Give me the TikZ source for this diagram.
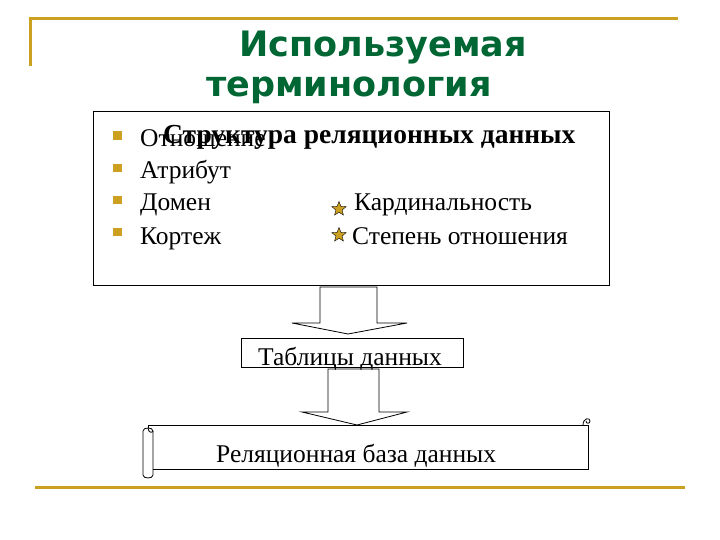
\documentclass[tikz,border=0pt]{standalone}
\usepackage{fontspec}
\setmainfont{Liberation Serif}
\newfontfamily\titlefont{DejaVu Sans}
\usetikzlibrary{shapes.geometric}
\definecolor{gold}{RGB}{204,160,32}
\definecolor{ttlgreen}{RGB}{0,102,51}
\begin{document}
\begin{tikzpicture}[x=1pt,y=-1pt,
  goldline/.style={draw=gold,line width=3pt},
  box/.style={draw=black,line width=0.8pt},
  txt/.style={anchor=base west,inner sep=0pt,font=\fontsize{25.5}{27}\selectfont},
  bul/.style={fill=gold,draw=none,minimum size=8.5pt,inner sep=0pt},
  starb/.style={star,star points=5,star point ratio=2.3,fill=gold,draw=black,line width=0.4pt,minimum size=15pt,inner sep=0pt},
  ttl/.style={text=ttlgreen,inner sep=0pt,anchor=base,font=\titlefont\bfseries\fontsize{35}{37}\selectfont}]
\useasboundingbox (0,0) rectangle (720,540);
% gold frame lines
\coordinate (tl) at (30.5,66);
\coordinate (tc) at (30.5,18.3);
\coordinate (tr) at (678,18.3);
\draw[goldline] (tl) -- (tc) -- (tr);
\coordinate (bl) at (35,487);
\coordinate (br) at (685,487);
\draw[goldline] (bl) -- (br);
% title
\node[ttl] (t1) at (383,57) {Используемая};
\node[ttl] (t2) at (349,97) {терминология};
% main box
\draw[box] (93,111) rectangle (609,285);
\node[bul] (b1) at (117.5,135.5) {};
\node[bul] (b2) at (117.5,168) {};
\node[bul] (b3) at (117.5,200) {};
\node[bul] (b4) at (117.5,232) {};
\node[txt] (o1) at (140,147) {Отношение};
\node[txt,font=\bfseries\fontsize{27.5}{29}\selectfont] (hd) at (163,144) {Структура реляционных данных};
\node[txt] (o2) at (140,179) {Атрибут};
\node[txt] (o3) at (140,211) {Домен};
\node[txt] (o4) at (140,244) {Кортеж};
\node[starb] (s1) at (339,209) {};
\node[starb] (s2) at (339,235) {};
\node[txt] (k1) at (354,211) {Кардинальность};
\node[txt] (k2) at (352,244) {Степень отношения};
% arrow 1
\draw[box,fill=white] (320,287) -- (377,287) -- (377,323) -- (407,323) -- (348,334) -- (292,323) -- (320,323) -- cycle;
% table box
\draw[box] (241,338) rectangle (463,367);
% arrow 2
\draw[box,fill=white] (328,369) -- (379,369) -- (379,412) -- (407,412) -- (357,425) -- (302,412) -- (328,412) -- cycle;
\node[txt] (tab) at (258,365) {Таблицы данных};
% scroll
\draw[box,fill=white] (148,425) -- (588,425) -- (588,469) -- (153,469);
\draw[box] (583,425) .. controls (583,418) and (590,417) .. (590,421) .. controls (590,424) and (586,424) .. (586,421);
\draw[box] (148,425) -- (148,428);
\draw[box] (143,431) .. controls (143,427) and (153,427) .. (153,431) -- (153,475) .. controls (153,479) and (143,479) .. (143,475) -- cycle;
\draw[box] (148,428) .. controls (148,433) and (153,433) .. (153,431);
\node[txt] (rb) at (216,462) {Реляционная база данных};
\end{tikzpicture}
\end{document}
